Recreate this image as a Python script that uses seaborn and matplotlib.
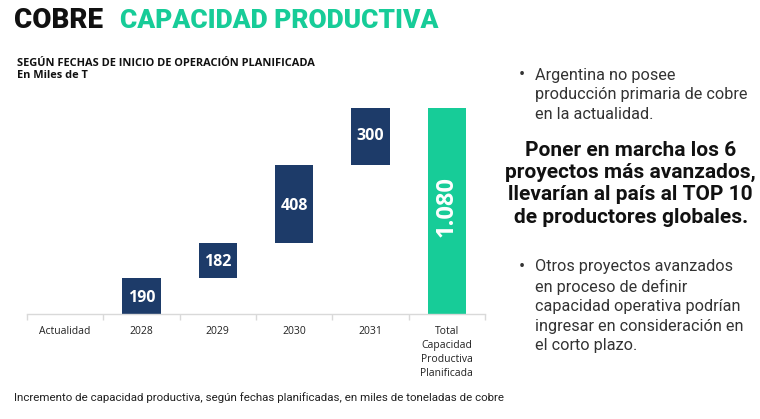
import matplotlib
matplotlib.use("Agg")
import matplotlib.pyplot as plt
import seaborn as sns
import numpy as np
import pandas as pd

# data
categorias = ["Actualidad", "2028", "2029", "2030", "2031",
              "Total\nCapacidad\nProductiva\nPlanificada"]
incrementos = [0, 190, 182, 408, 300]
total = 1080
etiquetas = ["", "190", "182", "408", "300", "1.080"]

# waterfall: each step starts where the previous one ended
base = [0] + list(np.cumsum(incrementos)[:-1]) + [0]
alto = [b + v for b, v in zip(base[:5], incrementos)] + [total]

df = pd.DataFrame({"cat": categorias, "base": base, "tope": alto})

NAVY = "#1d3b69"
GREEN = "#17cc98"
colores = [NAVY] * 5 + [GREEN]

sns.set_theme(style="white")
plt.rcParams["font.family"] = ["Open Sans", "DejaVu Sans"]
rf = ["Roboto", "DejaVu Sans"]

fig = plt.figure(figsize=(7.6, 4.19), dpi=100)
ax = fig.add_axes([0.0355, 0.2506, 0.6026, 0.4916])

sns.barplot(data=df, x="cat", y="tope", hue="cat", palette=colores,
            legend=False, width=0.5, linewidth=0, saturation=1, ax=ax)
# white bars hide the part under each floating step
sns.barplot(data=df, x="cat", y="base", color="white",
            width=0.52, linewidth=0, saturation=1, ax=ax)

ax.set_xlim(-0.5, 5.5)
ax.set_ylim(0, 1080)
ax.set_xlabel("")
ax.set_ylabel("")
ax.set_yticks([])
for s in ["top", "right", "left"]:
    ax.spines[s].set_visible(False)
ax.spines["bottom"].set_color("#d9d9d9")
ax.spines["bottom"].set_linewidth(1)
ax.set_xticks(np.arange(-0.5, 6.0, 1.0), minor=True)
ax.tick_params(axis="x", which="minor", length=4, color="#d9d9d9", bottom=True)
ax.tick_params(axis="x", which="major", length=0, pad=9, labelsize=7.5,
               labelcolor="#222222")
for lab in ax.get_xticklabels():
    lab.set_linespacing(1.35)
    lab.set_verticalalignment("top")

# bar labels
for i in range(1, 5):
    b, t = base[i], alto[i]
    if i == 1:
        y = b + 0.45 * (t - b)
    elif i == 4:
        y = b + 0.5 * (t - b) + 5
    else:
        y = (b + t) / 2 - 8
    ax.text(i, y, etiquetas[i], ha="center", va="center", color="white",
            fontsize=11.5, fontweight="bold")
ax.text(5, 1080 * 0.52, etiquetas[5], ha="center", va="center", color="white",
        fontsize=17, fontweight="bold", rotation=90)

# titles
fig.text(0.018, 0.950, "COBRE", fontsize=20, fontweight="heavy",
         family=rf, color="#111111", va="center")
fig.text(0.158, 0.950, "CAPACIDAD PRODUCTIVA", fontsize=19, fontweight="heavy",
         family=rf, color=GREEN, va="center")
fig.text(0.022, 0.849, "SEGÚN FECHAS DE INICIO DE OPERACIÓN PLANIFICADA",
         fontsize=7.9, fontweight="bold", color="#111111", va="center")
fig.text(0.022, 0.820, "En Miles de T", fontsize=7.9, fontweight="bold",
         color="#111111", va="center")
fig.text(0.018, 0.052,
         "Incremento de capacidad productiva, según fechas planificadas, en miles de toneladas de cobre",
         fontsize=8.25, family=rf, color="#222222", va="center")

# right side text
fig.text(0.683, 0.821, "•", fontsize=13, family=rf, color="#333333", va="center")
fig.text(0.704, 0.838, "Argentina no posee\nproducción primaria de cobre\nen la actualidad.",
         fontsize=11.7, family=rf, color="#333333", va="top", linespacing=1.36)
fig.text(0.830, 0.562,
         "Poner en marcha los 6\nproyectos más avanzados,\nllevarían al país al TOP 10\nde productores globales.",
         fontsize=15, fontweight="bold", family=rf, color="#111111",
         ha="center", va="center", linespacing=1.22)
fig.text(0.683, 0.363, "•", fontsize=13, family=rf, color="#333333", va="center")
fig.text(0.704, 0.381,
         "Otros proyectos avanzados\nen proceso de definir\ncapacidad operativa podrían\ningresar en consideración en\nel corto plazo.",
         fontsize=11.7, family=rf, color="#333333", va="top", linespacing=1.36)

fig.savefig("out.png", dpi=100)
